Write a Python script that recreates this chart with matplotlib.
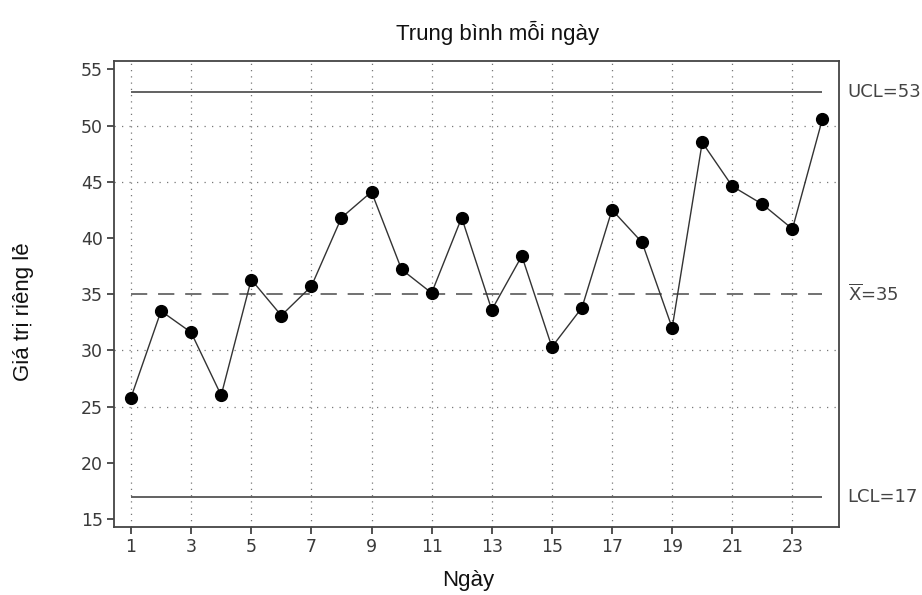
import matplotlib
matplotlib.use("Agg")
import matplotlib.pyplot as plt

# Daily means for the individuals control chart
days = list(range(1, 25))
values = [25.8, 33.5, 31.6, 26.0, 36.3, 33.1, 35.7, 41.8, 44.1, 37.2, 35.1, 41.8,
          33.6, 38.4, 30.3, 33.8, 42.5, 39.6, 32.0, 48.5, 44.6, 43.0, 40.8, 50.6]
ucl = 53
center = 35
lcl = 17
x_ticks = list(range(1, 24, 2))
y_ticks = list(range(15, 56, 5))
grid_y = [25, 30, 45, 50]

fig = plt.figure(figsize=(9.22, 5.95), dpi=100)
ax = fig.add_axes([0.1236, 0.1143, 0.7864, 0.7832])

# Dotted reference grid
for gx in x_ticks:
    ax.axvline(gx, color="#777777", lw=0.9, ls=(0, (1, 4)), zorder=0)
for gy in grid_y:
    ax.axhline(gy, color="#777777", lw=0.9, ls=(0, (1, 5)), zorder=0)

# Control limits and center line
ax.hlines([ucl, lcl], 1, 24, colors="#555555", lw=1.3, zorder=1)
ax.hlines(center, 1, 24, colors="#666666", lw=1.3, linestyles=(0, (9, 6)), zorder=1)

# Data series
ax.plot(days, values, color="#333333", lw=1.0, marker="o", markersize=8.5,
        markerfacecolor="black", markeredgecolor="black", zorder=3)

ax.set_xlim(0.434, 24.55)
ax.set_ylim(14.29, 55.74)
ax.set_xticks(x_ticks)
ax.set_yticks(y_ticks)
ax.tick_params(axis="both", direction="out", length=5, width=1.2, colors="#333333",
               labelsize=12.5, labelcolor="#3a3a3a", pad=3)
for s in ax.spines.values():
    s.set_color("#444444")
    s.set_linewidth(1.3)

# Control line labels
lab_kw = dict(transform=ax.get_yaxis_transform(), va="center", ha="left",
              fontsize=13, color="#444444", clip_on=False)
ax.text(1.012, ucl, "UCL=53", **lab_kw)
ax.text(1.012, center, r"$\overline{\mathrm{X}}$=35", **lab_kw)
ax.text(1.012, lcl, "LCL=17", **lab_kw)

fig.text(0.540, 0.9445, "Trung bình mỗi ngày", ha="center", va="center",
         fontsize=16, family="Liberation Sans", color="#111111")
fig.text(0.508, 0.025, "Ngày", ha="center", va="center",
         fontsize=16, family="Liberation Sans", color="#111111")
fig.text(0.025, 0.476, "Giá trị riêng lẻ", ha="center", va="center", rotation=90,
         fontsize=16, family="Liberation Sans", color="#111111")

fig.savefig("out.png", dpi=100)
